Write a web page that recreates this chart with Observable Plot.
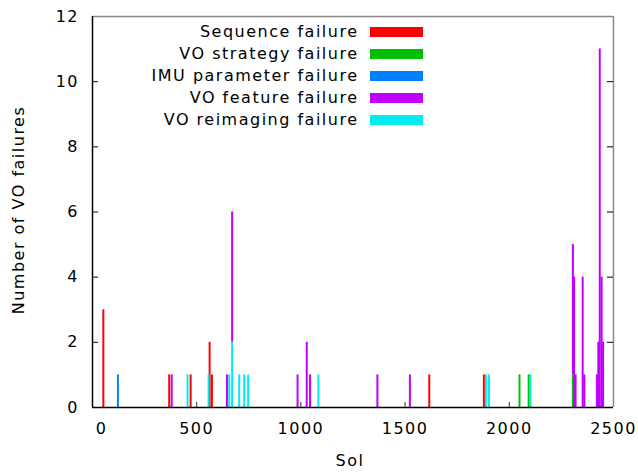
<!DOCTYPE html>
<html><head><meta charset="utf-8">
<script src="https://cdn.jsdelivr.net/npm/d3@7"></script>
<script src="https://cdn.jsdelivr.net/npm/@observablehq/plot@0.6"></script>
<style>
body{margin:0;background:#fff;}
#wrap{position:relative;width:638px;height:475px;font-family:"DejaVu Sans",sans-serif;color:#000;overflow:hidden;}
#wrap svg{position:absolute;left:0;top:0;}
.lbl{position:absolute;font-size:16px;white-space:nowrap;letter-spacing:1.5px;}
.row{position:absolute;left:0;height:22px;width:430px;}
.row .t{position:absolute;right:71.5px;top:0;line-height:22px;font-size:16px;white-space:nowrap;letter-spacing:1.5px;}
.row .s{position:absolute;left:370px;top:6px;width:53px;height:10px;}
</style></head>
<body><div id="wrap"></div>
<script>
const types = ["Sequence failure","VO strategy failure","IMU parameter failure","VO feature failure","VO reimaging failure"];
const colors = ["#ff0000","#00c000","#0080ff","#c000ff","#00eeee"];
const stackOrder = ["VO reimaging failure","VO strategy failure","Sequence failure","IMU parameter failure","VO feature failure"];

const seqSols = [52,368,471,562,573,1616,1878];
const seqCounts = [3,1,1,2,1,1,1];
const stratSols = [2049,2093,2305];
const stratCounts = [1,1,1];
const imuSols = [122];
const imuCounts = [1];
const featSols = [380,645,670,984,1028,1044,1367,1523,2305,2311,2318,2352,2360,2420,2427,2434,2443,2450];
const featCounts = [1,1,4,1,2,1,1,1,4,4,1,4,1,1,2,11,4,2];
const reimSols = [456,557,656,670,704,728,747,1084,1888,1902,2102];
const reimCounts = [1,1,1,2,1,1,1,1,1,1,1];

const xTicks = [0,500,1000,1500,2000,2500];
const yTicks = [0,2,4,6,8,10,12];

const series = [[seqSols,seqCounts],[stratSols,stratCounts],[imuSols,imuCounts],[featSols,featCounts],[reimSols,reimCounts]];
const rows = [];
series.forEach(([s,c],i)=>s.forEach((sol,j)=>rows.push({sol, count:c[j], type:types[i]})));

const W=638,H=475,mL=92,mR=25,mT=16,mB=68;
const plotW=W-mL-mR, plotH=H-mT-mB;
const fmt = d => String(d);

const chart = Plot.plot({
  width: W, height: H, marginLeft: mL, marginRight: mR, marginTop: mT, marginBottom: mB,
  style: {fontFamily: "DejaVu Sans", fontSize: "16px", background: "white", color: "black", letterSpacing: "1.5px"},
  x: {domain: [0,2500]},
  y: {domain: [0,12]},
  color: {domain: types, range: colors},
  marks: [
    Plot.ruleX(rows, Plot.stackY({x: "sol", y: "count", z: "type", stroke: "type", order: stackOrder, strokeWidth: 2})),
    Plot.ruleY([12], {y: d=>d, stroke: "#888", strokeWidth: 1.5}),
    Plot.ruleX([2500], {x: d=>d, stroke: "#888", strokeWidth: 1.5}),
    Plot.ruleX(xTicks.slice(1,-1), {x: d=>d, insetTop: plotH-5, stroke: "#333"}),
    Plot.ruleY(yTicks.slice(1,-1), {y: d=>d, insetRight: plotW-6, stroke: "#000"}),
    Plot.ruleY(yTicks.slice(1,-1), {y: d=>d, insetLeft: plotW-6, stroke: "#000"}),
    Plot.ruleY([0], {y: d=>d, stroke: "#000", strokeWidth: 1.5}),
    Plot.ruleX([0], {x: d=>d, stroke: "#000", strokeWidth: 1.5}),
    Plot.axisY(yTicks, {tickSize: 0, tickPadding: 13.5, label: null, tickFormat: fmt}),
    Plot.axisX(xTicks.slice(1), {tickSize: 0, tickPadding: 15, label: null, tickFormat: fmt}),
    Plot.axisX(xTicks.slice(0,1), {tickSize: 0, tickPadding: 15, label: null, tickFormat: fmt, dx: 9})
  ]
});
const wrap = document.getElementById("wrap");
wrap.appendChild(chart);

const yl = document.createElement("div");
yl.className = "lbl";
yl.textContent = "Number of VO failures";
yl.style.left = "18px"; yl.style.top = "210px";
yl.style.transform = "translate(-50%,-50%) rotate(-90deg)";
wrap.appendChild(yl);

const xl = document.createElement("div");
xl.className = "lbl";
xl.textContent = "Sol";
xl.style.left = "350px"; xl.style.top = "460px";
xl.style.transform = "translate(-50%,-50%)";
wrap.appendChild(xl);

types.forEach((t,i)=>{
  const r = document.createElement("div");
  r.className = "row";
  r.style.top = (21 + i*22) + "px";
  const tx = document.createElement("span"); tx.className = "t"; tx.textContent = t;
  const sw = document.createElement("span"); sw.className = "s"; sw.style.background = colors[i];
  r.appendChild(tx); r.appendChild(sw);
  wrap.appendChild(r);
});
</script></body></html>
